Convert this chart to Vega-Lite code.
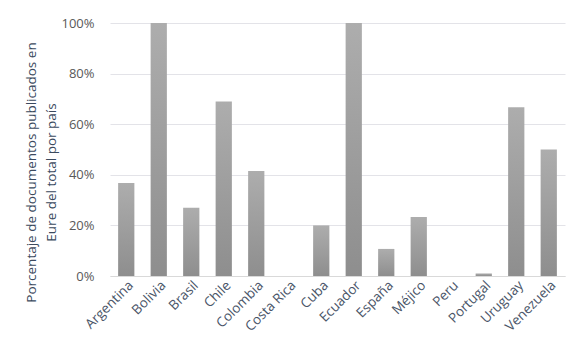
{
  "$schema": "https://vega.github.io/schema/vega-lite/v6.json",
  "width": 455,
  "height": 253,
  "autosize": {"type": "none"},
  "padding": {"left": 110, "top": 23, "right": 23, "bottom": 81},
  "background": "white",
  "data": {"values": [
    {"pais": "Argentina", "pct": 0.368},
    {"pais": "Bolivia", "pct": 1.0},
    {"pais": "Brasil", "pct": 0.27},
    {"pais": "Chile", "pct": 0.69},
    {"pais": "Colombia", "pct": 0.415},
    {"pais": "Costa Rica", "pct": 0.0},
    {"pais": "Cuba", "pct": 0.2},
    {"pais": "Ecuador", "pct": 1.0},
    {"pais": "España", "pct": 0.107},
    {"pais": "Méjico", "pct": 0.233},
    {"pais": "Peru", "pct": 0.0},
    {"pais": "Portugal", "pct": 0.01},
    {"pais": "Uruguay", "pct": 0.667},
    {"pais": "Venezuela", "pct": 0.5}
  ]},
  "mark": {
    "type": "bar",
    "color": {"gradient": "linear", "x1": 0, "y1": 0, "x2": 0, "y2": 1,
      "stops": [{"offset": 0, "color": "#adadad"}, {"offset": 1, "color": "#8e8e8e"}]}
  },
  "encoding": {
    "x": {
      "field": "pais", "type": "nominal", "sort": null,
      "scale": {"paddingInner": 0.5, "paddingOuter": 0.25},
      "axis": {"title": null, "labelAngle": -45, "labelAlign": "right", "labelBaseline": "top",
        "labelFont": "Open Sans", "labelFontSize": 13.5, "labelColor": "#4a5568", "labelPadding": 2,
        "labelOverlap": false,
        "ticks": false, "domainColor": "#d9d9d9", "domainWidth": 1}
    },
    "y": {
      "field": "pct", "type": "quantitative",
      "scale": {"domain": [0, 1]},
      "axis": {"format": ".0%", "values": [0, 0.2, 0.4, 0.6, 0.8, 1.0],
        "title": ["Porcentaje de documentos publicados en", "Eure del total  por país"],
        "titleFont": "Open Sans", "titleFontSize": 13.5, "titleFontWeight": "normal", "titleColor": "#3b4a5e",
        "titlePadding": 2, "titleLineHeight": 20, "titleY": 149,
        "labelFont": "Open Sans", "labelFontSize": 13, "labelColor": "#595959", "labelPadding": 16,
        "ticks": false, "domain": false, "gridColor": "#e3e3e8", "gridWidth": 1}
    }
  },
  "config": {"view": {"stroke": null}}
}
